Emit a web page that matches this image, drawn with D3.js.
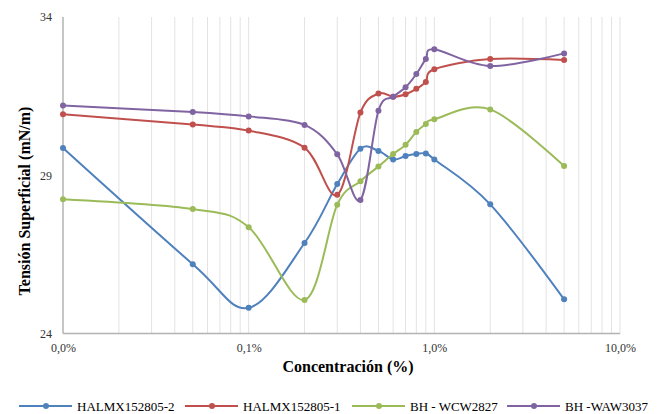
<!DOCTYPE html>
<meta charset="utf-8">
<title>Tensión superficial</title>
<style>
body { margin: 0; background: #fff; }
text { font-family: "Liberation Serif", "Times New Roman", serif; }
.grid line { stroke: #e3e3e3; stroke-width: 1px; }
.axis path, .axis line { stroke: #b3b3b3; stroke-width: 1.5px; }
.axis text { font-size: 12px; fill: #333; }
.title { font-weight: bold; font-size: 16px; fill: #000; }
.legend text { font-size: 13px; fill: #000; }
</style>
<body>
<svg></svg>
</body>
<script src="https://d3js.org/d3.v7.min.js"></script>
<script>

// concentration (%)
var conc = [0.01, 0.05, 0.1, 0.2, 0.3, 0.4, 0.5, 0.6, 0.7, 0.8, 0.9, 1, 2, 5];

var halmx2 = [29.86, 26.19, 24.81, 26.86, 28.72, 29.84, 29.77, 29.50, 29.61, 29.67, 29.69, 29.50, 28.08, 25.08];
var halmx1 = [30.93, 30.60, 30.41, 29.87, 28.38, 30.98, 31.58, 31.48, 31.56, 31.73, 31.95, 32.35, 32.67, 32.64];
var wcw2827 = [28.24, 27.93, 27.36, 25.06, 28.07, 28.81, 29.28, 29.67, 29.96, 30.37, 30.62, 30.77, 31.08, 29.29];
var waw3037 = [31.20, 31.00, 30.86, 30.59, 29.66, 28.22, 31.04, 31.48, 31.78, 32.20, 32.67, 32.98, 32.45, 32.85];

var seriesNames = ["HALMX152805-2", "HALMX152805-1", "BH - WCW2827", "BH -WAW3037"];
var seriesColors = ["#4f81bd", "#c0504d", "#9bbb59", "#8064a2"];

var xTicks = [0.01, 0.1, 1, 10];
var xTickLabels = ["0,0%", "0,1%", "1,0%", "10,0%"];
var yTicks = [24, 29, 34];

var width = 665,
    height = 414;

var svg = d3.select("svg").attr("width", width).attr("height", height);

var x = d3.scaleLog().domain([0.01, 10]).range([63, 620]),
    y = d3.scaleLinear().domain([24, 34]).range([333.5, 17]);

// minor log gridlines
var gridVals = x.ticks().filter(v => v > 0.01);
svg.append("g").attr("class", "grid")
    .selectAll("line")
    .data(gridVals)
    .enter().append("line")
    .attr("x1", d => x(d)).attr("x2", d => x(d))
    .attr("y1", y(34)).attr("y2", y(24));

// axes
var xAxis = svg.append("g").attr("class", "axis")
    .attr("transform", "translate(0," + y(24) + ")")
    .call(d3.axisBottom(x).tickValues(xTicks)
        .tickFormat((d, i) => xTickLabels[i]).tickSize(0).tickPadding(10));

var yAxis = svg.append("g").attr("class", "axis")
    .attr("transform", "translate(" + x(0.01) + ",0)")
    .call(d3.axisLeft(y).tickValues(yTicks).tickSize(0).tickPadding(11));

xAxis.select(".domain").attr("d", "M" + x(0.01) + ",0H" + x(10));
yAxis.select(".domain").attr("d", "M0," + y(34) + "V" + y(24));

svg.append("text").attr("class", "title")
    .attr("x", 348).attr("y", 372)
    .attr("text-anchor", "middle")
    .text("Concentración (%)");

svg.append("text").attr("class", "title")
    .attr("transform", "translate(30,201) rotate(-90)")
    .attr("text-anchor", "middle")
    .text("Tensión Superficial (mN/m)");

// series
var allSeries = [halmx2, halmx1, wcw2827, waw3037];
var line = d3.line()
    .x((d, i) => x(conc[i]))
    .y(d => y(d))
    .curve(d3.curveCatmullRom.alpha(0));

allSeries.forEach(function(vals, s) {
    var g = svg.append("g");
    g.append("path")
        .datum(vals)
        .attr("d", line)
        .attr("fill", "none")
        .attr("stroke", seriesColors[s])
        .attr("stroke-width", 2);
    g.selectAll("circle")
        .data(vals)
        .enter().append("circle")
        .attr("cx", (d, i) => x(conc[i]))
        .attr("cy", d => y(d))
        .attr("r", 3)
        .attr("fill", seriesColors[s]);
});

// legend
var legendX = [19, 185, 352, 507];
var legend = svg.append("g").attr("class", "legend");
seriesNames.forEach(function(name, s) {
    var lg = legend.append("g").attr("transform", "translate(" + legendX[s] + ",406)");
    lg.append("line").attr("x1", 0).attr("x2", 53).attr("y1", 0).attr("y2", 0)
        .attr("stroke", seriesColors[s]).attr("stroke-width", 2);
    lg.append("circle").attr("cx", 27).attr("cy", 0).attr("r", 3).attr("fill", seriesColors[s]);
    lg.append("text").attr("x", 58).attr("y", 4.5).text(name);
});

</script>
